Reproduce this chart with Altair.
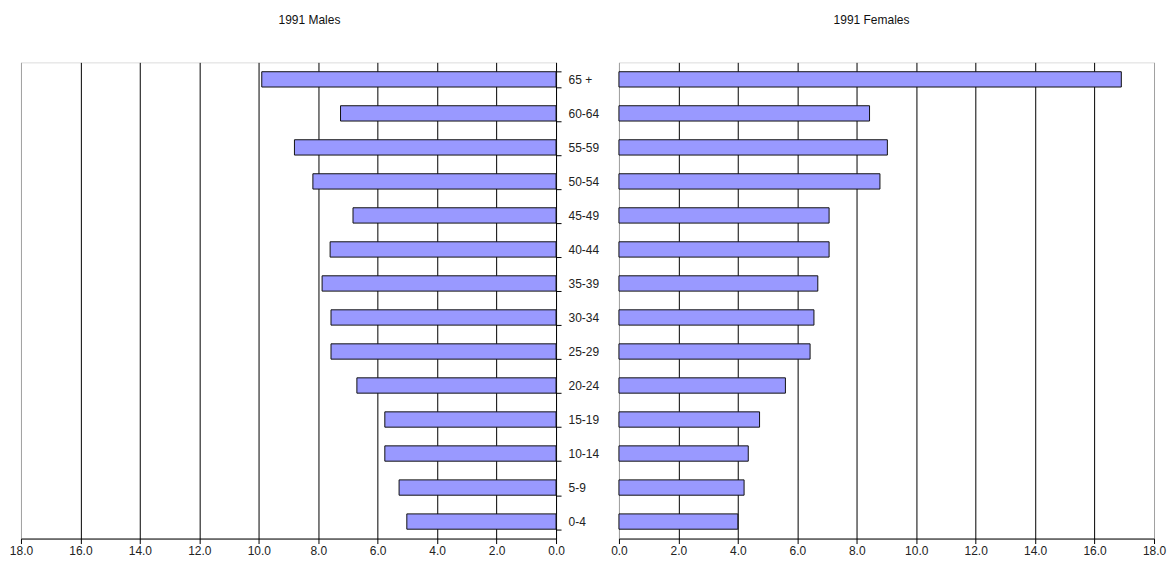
import altair as alt
import pandas as pd

# Age groups, listed from the top of the pyramid down
age_groups = ["65 +", "60-64", "55-59", "50-54", "45-49", "40-44", "35-39",
              "30-34", "25-29", "20-24", "15-19", "10-14", "5-9", "0-4"]

# Percentage of each sex's population in every age group, 1991
males = [9.9, 7.25, 8.8, 8.18, 6.83, 7.6, 7.87, 7.57, 7.57, 6.7, 5.76, 5.76, 5.28, 5.02]
females = [16.9, 8.43, 9.03, 8.78, 7.07, 7.07, 6.69, 6.56, 6.43, 5.6, 4.73, 4.35, 4.21, 4.0]

df = pd.DataFrame({"age": age_groups, "male": males, "female": females})

FONT = "Liberation Sans"
BAR_FILL = "#9999FF"
FRAME = "#a0a0a0"

y_scale = alt.Scale(paddingInner=0.55, paddingOuter=0.275)
edge_test = "datum.value == 0 || datum.value == 18"


def panel_title(text, dx, dy):
    return alt.Title(
        text, font=FONT, fontSize=12, fontWeight="normal", color="#111111",
        offset=37, dx=dx, dy=dy, anchor="middle", frame="group",
    )


def x_axis():
    return alt.Axis(
        values=list(range(0, 19, 2)),
        format=".1f",
        title=None,
        grid=True,
        gridColor=alt.condition(edge_test, alt.value(FRAME), alt.value("#000000")),
        gridWidth=1,
        domainColor="#000000",
        tickColor="#000000",
        tickSize=5,
        labelFont=FONT,
        labelFontSize=12,
        labelColor="#222222",
        labelPadding=2,
        labelFlush=False,
    )


male_chart = alt.Chart(df, title=panel_title("1991 Males", 21, 8)).mark_bar(
    fill=BAR_FILL, stroke="#111111", strokeWidth=1
).encode(
    x=alt.X("male:Q", scale=alt.Scale(domain=[0, 18], reverse=True, nice=False), axis=x_axis()),
    y=alt.Y(
        "age:N",
        sort=age_groups,
        scale=y_scale,
        axis=alt.Axis(
            orient="right",
            title=None,
            tickBand="extent",
            domainColor="#000000",
            tickColor="#000000",
            tickSize=5,
            labelFont=FONT,
            labelFontSize=12,
            labelColor="#222222",
            labelPadding=7,
        ),
    ),
).properties(width=536, height=477)

female_chart = alt.Chart(df, title=panel_title("1991 Females", -15, 2)).mark_bar(
    fill=BAR_FILL, stroke="#111111", strokeWidth=1
).encode(
    x=alt.X("female:Q", scale=alt.Scale(domain=[0, 18], nice=False), axis=x_axis()),
    y=alt.Y("age:N", sort=age_groups, scale=y_scale, axis=None),
).properties(width=536, height=477)

chart = alt.hconcat(male_chart, female_chart, spacing=63, bounds="flush").resolve_scale(
    y="independent"
).properties(
    padding={"left": 8, "top": 13, "right": 0, "bottom": 0}
).configure_view(
    stroke=FRAME, strokeWidth=1
).configure(background="#ffffff")

chart.save("out.html", embed_options={"renderer": "svg", "actions": False})
